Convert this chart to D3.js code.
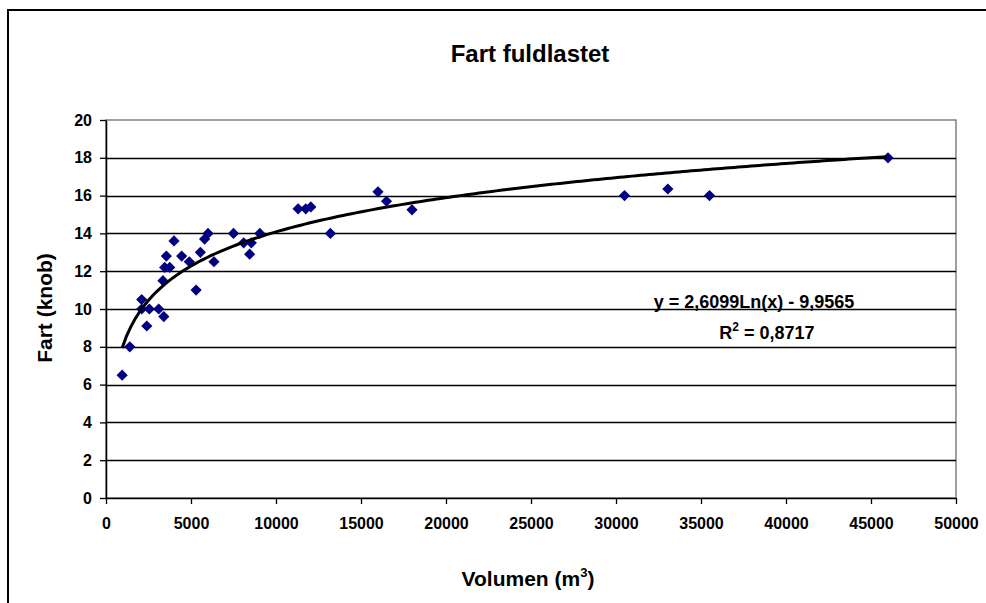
<!DOCTYPE html>
<html>
<head>
<meta charset="utf-8">
<script src="https://cdn.jsdelivr.net/npm/d3@7"></script>
<style>
  body { margin: 0; background: #fff; }
  svg { display: block; font-family: Arial, "Liberation Sans", sans-serif; font-weight: bold; }
</style>
</head>
<body>
<svg id="chart"></svg>
<script>
var WIDTH = 986;
var HEIGHT = 603;

// volumen (m3) and fart (knob)
var volumes = [950, 1400, 2100, 2100, 2400, 2550, 3100, 3400, 3350, 3450, 3750, 3550,
  4000, 4450, 4900, 5300, 5550, 5800, 6000, 6350, 7500, 8100, 8450, 8550, 9050,
  11300, 11750, 12050, 13200, 16000, 16500, 18000, 30500, 33050, 35500, 46000];
var speeds = [6.5, 8.0, 10.5, 10.0, 9.1, 10.0, 10.0, 9.6, 11.5, 12.2, 12.2, 12.8,
  13.6, 12.8, 12.5, 11.0, 13.0, 13.7, 14.0, 12.5, 14.0, 13.5, 12.9, 13.5, 14.0,
  15.3, 15.3, 15.4, 14.0, 16.2, 15.7, 15.25, 16.0, 16.35, 16.0, 18.0];

var xTicks = [0, 5000, 10000, 15000, 20000, 25000, 30000, 35000, 40000, 45000, 50000];
var yTicks = [0, 2, 4, 6, 8, 10, 12, 14, 16, 18, 20];

// logarithmic trendline shown on the chart
var trendA = 2.6099;
var trendB = -9.9565;

var margin = { left: 106, right: 30, top: 120, bottom: 105 };

var svg = d3.select('#chart')
  .attr('width', WIDTH)
  .attr('height', HEIGHT);

// outer chart frame (only left and top are visible in the picture)
svg.append('path')
  .attr('d', 'M8,' + HEIGHT + 'V10H' + WIDTH)
  .attr('fill', 'none')
  .attr('stroke', '#000')
  .attr('stroke-width', 2);

var xScale = d3.scaleLinear()
  .domain([0, 50000])
  .range([margin.left, WIDTH - margin.right]);

var yScale = d3.scaleLinear()
  .domain([0, 20])
  .range([HEIGHT - margin.bottom, margin.top]);

// plot area border
svg.append('rect')
  .attr('x', xScale(0))
  .attr('y', yScale(20))
  .attr('width', xScale(50000) - xScale(0))
  .attr('height', yScale(0) - yScale(20))
  .attr('fill', '#fff')
  .attr('stroke', '#808080')
  .attr('stroke-width', 1.5);

// horizontal gridlines
svg.append('g')
  .selectAll('line')
  .data(yTicks.filter(function(d) { return d > 0 && d < 20; }))
  .enter()
  .append('line')
  .attr('x1', xScale(0))
  .attr('x2', xScale(50000))
  .attr('y1', function(d) { return Math.round(yScale(d)) + 0.5; })
  .attr('y2', function(d) { return Math.round(yScale(d)) + 0.5; })
  .attr('stroke', '#000')
  .attr('stroke-width', 1.3);

// axes
var bottomAxis = d3.axisBottom(xScale)
  .tickValues(xTicks)
  .tickSizeInner(6)
  .tickSizeOuter(0)
  .tickPadding(14)
  .tickFormat(d3.format('d'));
var gx = svg.append('g')
  .attr('transform', 'translate(0,' + yScale(0) + ')')
  .call(bottomAxis);

var leftAxis = d3.axisLeft(yScale)
  .tickValues(yTicks)
  .tickSizeInner(6)
  .tickSizeOuter(0)
  .tickPadding(8)
  .tickFormat(d3.format('d'));
var gy = svg.append('g')
  .attr('transform', 'translate(' + xScale(0) + ',0)')
  .call(leftAxis);

[gx, gy].forEach(function(g) {
  g.select('.domain').attr('stroke', '#000').attr('stroke-width', 1.5);
  g.selectAll('.tick line').attr('stroke', '#000').attr('stroke-width', 1.3);
  g.selectAll('.tick text')
    .attr('fill', '#000')
    .style('font-size', '16px')
    .style('font-family', 'Arial, "Liberation Sans", sans-serif')
    .style('font-weight', 'bold');
});

// trendline
var trendX = d3.range(d3.min(volumes), d3.max(volumes) + 1, 250);
var trendLine = d3.line()
  .x(function(d) { return xScale(d); })
  .y(function(d) { return yScale(trendA * Math.log(d) + trendB); });

// markers
var points = volumes.map(function(v, i) { return { x: v, y: speeds[i] }; });
var diamond = d3.symbol().type(d3.symbolDiamond2).size(80);
svg.append('g')
  .selectAll('path')
  .data(points)
  .enter()
  .append('path')
  .attr('d', diamond)
  .attr('transform', function(d) {
    return 'translate(' + xScale(d.x) + ',' + yScale(d.y) + ')';
  })
  .attr('fill', '#000080');

svg.append('path')
  .datum(trendX)
  .attr('d', trendLine)
  .attr('fill', 'none')
  .attr('stroke', '#000')
  .attr('stroke-width', 3);

// title
svg.append('text')
  .attr('x', 530)
  .attr('y', 62)
  .attr('text-anchor', 'middle')
  .style('font-size', '24px')
  .text('Fart fuldlastet');

// axis titles
var xTitle = svg.append('text')
  .attr('x', 528)
  .attr('y', 586)
  .attr('text-anchor', 'middle')
  .style('font-size', '21px');
xTitle.append('tspan').text('Volumen (m');
xTitle.append('tspan').attr('dy', -9).style('font-size', '13px').text('3');
xTitle.append('tspan').attr('dy', 9).text(')');

svg.append('text')
  .attr('transform', 'translate(52,308) rotate(-90)')
  .attr('text-anchor', 'middle')
  .style('font-size', '21px')
  .text('Fart (knob)');

// trendline equation
svg.append('text')
  .attr('x', 754)
  .attr('y', 308)
  .attr('text-anchor', 'middle')
  .style('font-size', '18px')
  .text('y = ' + d3.format('.4f')(trendA).replace('.', ',') + 'Ln(x) - ' +
    d3.format('.4f')(-trendB).replace('.', ','));

var rText = svg.append('text')
  .attr('x', 767)
  .attr('y', 339)
  .attr('text-anchor', 'middle')
  .style('font-size', '18px');
rText.append('tspan').text('R');
rText.append('tspan').attr('dy', -8).style('font-size', '12px').text('2');
rText.append('tspan').attr('dy', 8).text(' = 0,8717');
</script>
</body>
</html>
